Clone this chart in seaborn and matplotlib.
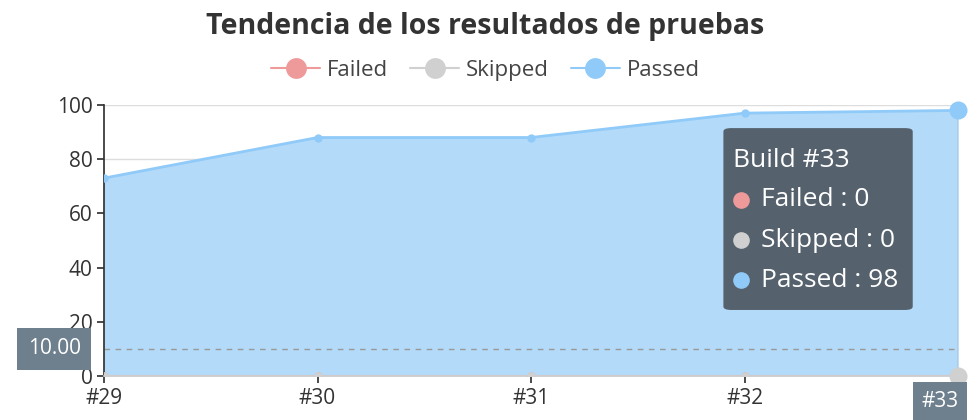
import numpy as np
import pandas as pd
import matplotlib
matplotlib.use("Agg")
import matplotlib.pyplot as plt
from matplotlib.patches import FancyBboxPatch
from matplotlib.lines import Line2D
import seaborn as sns

# datos
builds = ["#29", "#30", "#31", "#32", "#33"]
failed = [0, 0, 0, 0, 0]
skipped = [0, 0, 0, 0, 0]
passed = [73, 88, 88, 97, 98]
threshold = 10.0

sns.set_theme(style="white")
plt.rcParams['font.family'] = ['Open Sans', 'DejaVu Sans']

c_failed = "#EF9A9A"
c_skipped = "#D0D0D0"
c_passed = "#90CAF9"
series = [("Failed", c_failed), ("Skipped", c_skipped), ("Passed", c_passed)]

df = pd.DataFrame({"build": builds, "Failed": failed, "Skipped": skipped, "Passed": passed})
df["x"] = np.arange(len(builds))

fig = plt.figure(figsize=(9.71, 4.2), dpi=100)
ax = fig.add_axes([0.107, 0.105, 0.880, 0.645])

# area de Passed
ax.fill_between(df["x"], 0, df["Passed"], color="#B3DAF8", zorder=1, lw=0)

for name, col in series:
    sns.lineplot(data=df, x="x", y=name, ax=ax, color=col, lw=2, marker="o",
                 markersize=6, markeredgewidth=0, zorder=3, legend=False)

# puntos resaltados del tooltip
last = len(builds) - 1
ax.plot(last, passed[-1], "o", ms=13, color=c_passed, mec="none", zorder=5, clip_on=False)
ax.plot(last, skipped[-1], "o", ms=13, color=c_skipped, mec="none", zorder=5, clip_on=False)
ax.axvline(last, color="#999999", lw=1, zorder=2)

# linea umbral
ax.axhline(threshold, color="#999999", lw=1, ls=(0, (4, 4)), zorder=2)

ax.set_xlim(0, last)
ax.set_ylim(0, 100)
ax.set_yticks(range(0, 101, 20))
ax.set_xticks(df["x"])
# la ultima etiqueta la tapa el recuadro del puntero
ax.set_xticklabels(builds[:-1] + [""])
ax.set_xlabel("")
ax.set_ylabel("")
ax.yaxis.grid(True, color="#DDDDDD", lw=1)
ax.set_axisbelow(True)
for s in ["top", "right"]:
    ax.spines[s].set_visible(False)
ax.spines["left"].set_color("#333333")
ax.spines["bottom"].set_color("#CCCCCC")
ax.tick_params(axis="both", labelsize=15, colors="#333333", length=5, direction="out",
               left=True, bottom=True)
ax.tick_params(axis="x", pad=4)
ax.tick_params(axis="y", pad=3)

# leyenda
handles = [Line2D([], [], color=col, lw=1.5, marker="o", ms=15, mec="none") for _, col in series]
labels = [n for n, _ in series]
leg = fig.legend(handles, labels, loc="center", bbox_to_anchor=(0.5, 0.833), ncol=3,
                 frameon=False, fontsize=16, handlelength=2.2, columnspacing=1.0,
                 handletextpad=0.3)
for t in leg.get_texts():
    t.set_color("#444444")

fig.text(0.5, 0.936, "Tendencia de los resultados de pruebas", ha="center", va="center",
         fontsize=20.5, fontweight="bold", color="#333333")

# etiqueta 10.00
ax.text(-0.058, threshold, "10.00", transform=ax.get_yaxis_transform(), ha="center", va="center",
        fontsize=15, color="white", zorder=10, clip_on=False,
        bbox=dict(boxstyle="square,pad=0.5", fc="#6E7F8D", ec="none"))
# etiqueta #33
fig.text(0.968, 0.045, builds[-1], ha="center", va="center", fontsize=15, color="white",
         zorder=10, bbox=dict(boxstyle="square,pad=0.4", fc="#6E7F8D", ec="none"))

# tooltip
box = FancyBboxPatch((0.745, 0.262), 0.195, 0.433, boxstyle="round,pad=0,rounding_size=0.008",
                     transform=fig.transFigure, fc="#505B66", ec="none", alpha=0.95, zorder=20)
fig.patches.append(box)
fig.text(0.755, 0.619, "Build #33", fontsize=19, color="white", va="center", zorder=21)
rows = [("Failed : 0", c_failed), ("Skipped : 0", c_skipped), ("Passed : 98", c_passed)]
for i, (txt, col) in enumerate(rows):
    y = 0.524 - i * 0.0955
    fig.text(0.784, y, txt, fontsize=19, color="white", va="center", zorder=21)
    fig.lines.append(Line2D([0.7635], [y], transform=fig.transFigure, marker="o", ms=12,
                            color=col, mec="none", ls="none", zorder=21))

fig.savefig("out.png", dpi=100)
